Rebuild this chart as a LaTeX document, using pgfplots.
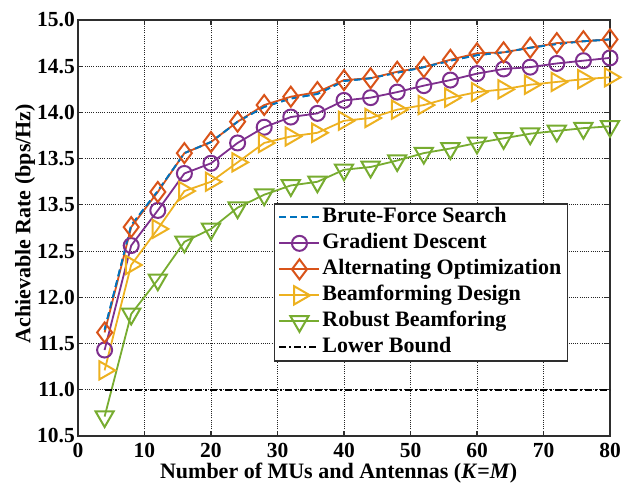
\documentclass[border=0pt]{standalone}
\usepackage{pgfplots}
\pgfplotsset{compat=1.18}
\usepackage{fontspec}
\setmainfont{Liberation Serif}
\definecolor{mblue}{rgb}{0,0.447,0.741}
\definecolor{morange}{rgb}{0.85,0.325,0.098}
\definecolor{myellow}{rgb}{0.929,0.694,0.125}
\definecolor{mpurple}{rgb}{0.494,0.184,0.556}
\definecolor{mgreen}{rgb}{0.466,0.674,0.188}
\pgfplotstableread{
x bf ao gd bd rb
4 11.65 11.62 11.43 11.21 10.71
8 12.78 12.76 12.56 12.35 11.82
12 13.15 13.14 12.94 12.74 12.19
16 13.56 13.56 13.34 13.15 12.60
20 13.68 13.68 13.45 13.25 12.74
24 13.90 13.90 13.67 13.46 12.97
28 14.06 14.08 13.84 13.67 13.11
32 14.15 14.17 13.95 13.74 13.21
36 14.20 14.22 13.99 13.78 13.25
40 14.34 14.35 14.13 13.91 13.38
44 14.37 14.37 14.16 13.94 13.41
48 14.43 14.44 14.22 14.03 13.48
52 14.49 14.49 14.29 14.08 13.56
56 14.56 14.57 14.35 14.16 13.61
60 14.62 14.64 14.42 14.22 13.67
64 14.65 14.65 14.47 14.25 13.72
68 14.70 14.70 14.49 14.30 13.77
72 14.74 14.75 14.53 14.33 13.80
76 14.77 14.77 14.56 14.36 13.83
80 14.79 14.79 14.59 14.38 13.85
}\data
\begin{document}
\begin{tikzpicture}
\begin{axis}[
  scale only axis,
  width=532pt, height=416pt,
  xmin=0, xmax=80, ymin=10.5, ymax=15.0,
  xtick={0,10,...,80},
  ytick={10.5,11.0,11.5,12.0,12.5,13.0,13.5,14.0,14.5,15.0},
  yticklabels={10.5,11.0,11.5,12.0,12.5,13.5,13.5,14.0,14.5,15.0},
  /pgf/number format/assume math mode=true,
  xticklabel style={/pgf/number format/fixed, anchor=north, inner sep=0pt, yshift=-7pt},
  yticklabel style={anchor=east, inner sep=0pt, xshift=-3pt},
  tick label style={font=\bfseries\fontsize{21.5}{22}\selectfont, black},
  label style={font=\bfseries\fontsize{22}{24}\selectfont},
  xlabel={Number of MUs and Antennas (\textit{K}=\textit{M})},
  ylabel={Achievable Rate (bps/Hz)},
  xlabel style={at={(axis description cs:0.49,-0.101)}, anchor=base, inner sep=0pt},
  ylabel style={at={(axis description cs:-0.0996,0.51)}, anchor=center},
  grid=major,
  major grid style={black!85, dash pattern=on 1pt off 1.2pt, line width=0.8pt},
  axis line style={line width=2.2pt, black!82},
  tick style={black!82, line width=1.2pt},
  tick align=inside,
  major tick length=5pt,
  legend image code/.code={\draw[mark repeat=2,mark phase=2] plot coordinates {(0pt,0pt) (20pt,0pt) (40pt,0pt)};},
  legend style={at={(0.368,0.56)}, anchor=north west, font=\bfseries\fontsize{22}{24}\selectfont,
    draw=black!82, line width=1.6pt, inner xsep=4pt, inner ysep=1pt, row sep=1pt,
    nodes={inner sep=2pt, text height=16pt, text depth=5pt}},
  legend cell align=left,
]
\coordinate (SW) at (rel axis cs:0,0);
\coordinate (NE) at (rel axis cs:1,1);
\addplot[mblue, line width=1.8pt, dash pattern=on 7pt off 4pt] table[x=x,y=bf]{\data};
\addlegendentry{Brute-Force Search}
\addplot[mpurple, line width=1.8pt, mark=o, mark size=7.5pt, mark options={solid, line width=2pt}] table[x=x,y=gd]{\data};
\addlegendentry{Gradient Descent}
\addplot[morange, line width=1.8pt, mark=diamond, mark size=10pt, mark options={solid, line width=2pt}] table[x=x,y=ao]{\data};
\addlegendentry{Alternating Optimization}
\addplot[myellow, line width=1.8pt, mark=triangle, mark size=10.5pt, mark options={solid, line width=2pt, rotate=-90}] table[x=x,y=bd]{\data};
\addlegendentry{Beamforming Design}
\addplot[mgreen, line width=1.8pt, mark=triangle, mark size=10.5pt, mark options={solid, line width=2pt, rotate=180}] table[x=x,y=rb]{\data};
\addlegendentry{Robust Beamforing}
\addplot[black, line width=1.8pt, dash pattern=on 7pt off 3pt on 2pt off 3pt] coordinates {(4,11.0) (80,11.0)};
\addlegendentry{Lower Bound}
\addplot[mblue, line width=1.8pt, dash pattern=on 7pt off 4pt, forget plot] table[x=x,y=bf]{\data};
\end{axis}
\pgfresetboundingbox
\path[use as bounding box] ([shift={(-78pt,-48pt)}]SW) rectangle ([shift={(16pt,20pt)}]NE);
\end{tikzpicture}
\end{document}
